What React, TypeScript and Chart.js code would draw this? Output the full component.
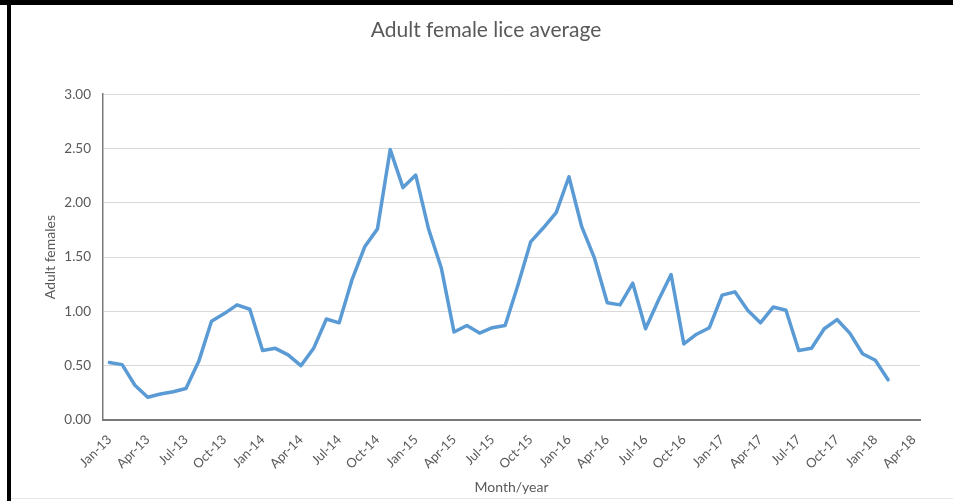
import React, { useEffect, useRef } from "react";
import { Chart, registerables } from "chart.js";

Chart.register(...registerables);

const MONTHS = ["Jan", "Feb", "Mar", "Apr", "May", "Jun", "Jul", "Aug", "Sep", "Oct", "Nov", "Dec"];
const YEARS = ["13", "14", "15", "16", "17", "18"];
const LAST_YEAR_MONTHS = 4; // axis runs to Apr-18

const categories: string[] = [];
YEARS.forEach((y, yi) => {
  const n = yi === YEARS.length - 1 ? LAST_YEAR_MONTHS : 12;
  for (let m = 0; m < n; m++) categories.push(`${MONTHS[m]}-${y}`);
});

const values2013 = [0.53, 0.51, 0.32, 0.21, 0.24, 0.26, 0.29, 0.54, 0.91, 0.98, 1.06, 1.02];
const values2014 = [0.64, 0.66, 0.6, 0.5, 0.66, 0.93, 0.895, 1.29, 1.595, 1.76, 2.49, 2.14];
const values2015 = [2.255, 1.76, 1.4, 0.81, 0.87, 0.8, 0.85, 0.87, 1.24, 1.64, 1.77, 1.91];
const values2016 = [2.24, 1.78, 1.49, 1.08, 1.06, 1.26, 0.84, 1.1, 1.34, 0.7, 0.79, 0.85];
const values2017 = [1.15, 1.18, 1.01, 0.895, 1.04, 1.01, 0.64, 0.66, 0.84, 0.925, 0.8, 0.61];
const values2018 = [0.55, 0.37];

const liceAverage = [
  ...values2013,
  ...values2014,
  ...values2015,
  ...values2016,
  ...values2017,
  ...values2018,
];

const yTicks = [0, 0.5, 1, 1.5, 2, 2.5, 3];

const TEXT = "#595959";
const FONT = "Lato, 'Open Sans', sans-serif";

export default function App() {
  const ref = useRef<HTMLCanvasElement | null>(null);

  useEffect(() => {
    if (!ref.current) return;
    const chart = new Chart(ref.current, {
      type: "line",
      data: {
        labels: categories,
        datasets: [
          {
            label: "Adult female lice average",
            data: liceAverage,
            borderColor: "#5b9bd5",
            backgroundColor: "#5b9bd5",
            borderWidth: 3.5,
            pointRadius: 0,
            tension: 0,
            borderJoinStyle: "round",
            borderCapStyle: "round",
          },
        ],
      },
      options: {
        animation: false,
        responsive: false,
        devicePixelRatio: 1,
        layout: { padding: { left: 52, right: 33, top: 0, bottom: 0 } },
        plugins: {
          legend: { display: false },
          tooltip: { enabled: false },
          title: {
            display: true,
            text: "Adult female lice average",
            color: TEXT,
            font: { family: FONT, size: 21, weight: "normal" },
            padding: { top: 18, bottom: 51 },
          },
        },
        scales: {
          x: {
            type: "category",
            offset: true,
            grid: { display: false, drawTicks: false },
            border: { display: true, color: "#7a7a7a", width: 2 },
            ticks: {
              autoSkip: false,
              maxRotation: 45,
              minRotation: 45,
              padding: 12,
              color: TEXT,
              font: { family: FONT, size: 13 },
              callback: (_v: any, i: number) => (i % 3 === 0 ? categories[i] : ""),
            },
            title: {
              display: true,
              text: "Month/year",
              color: TEXT,
              font: { family: FONT, size: 14 },
              padding: { top: 0, bottom: 5 },
            },
            afterFit: (s: any) => {
              s.height = 81;
            },
          },
          y: {
            min: 0,
            max: 3,
            afterBuildTicks: (s: any) => {
              s.ticks = yTicks.map((v) => ({ value: v }));
            },
            grid: { color: "#d9d9d9", lineWidth: 1, drawTicks: false },
            border: { display: true, color: "#7a7a7a", width: 1.5 },
            ticks: {
              padding: 12,
              color: TEXT,
              font: { family: FONT, size: 13.5 },
              callback: (v: any) => Number(v).toFixed(2),
            },
            title: {
              display: true,
              text: "Adult females",
              color: TEXT,
              font: { family: FONT, size: 14 },
              padding: { top: -10, bottom: 0 },
            },
            afterFit: (s: any) => {
              s.width = 51;
            },
          },
        },
      },
    });
    return () => chart.destroy();
  }, []);

  return (
    <div
      style={{
        position: "fixed",
        left: 0,
        top: 0,
        width: 953,
        height: 501,
        background: "#ffffff",
        overflow: "hidden",
      }}
    >
      <canvas ref={ref} width={953} height={501} style={{ position: "absolute", left: 0, top: 0 }} />
      <div style={{ position: "absolute", left: 0, top: 0, width: 953, height: 5, background: "#000" }} />
      <div style={{ position: "absolute", left: 7, top: 0, width: 4, height: 501, background: "#000" }} />
      <div style={{ position: "absolute", left: 11, top: 498, width: 942, height: 1, background: "#e6e6e6" }} />
    </div>
  );
}
